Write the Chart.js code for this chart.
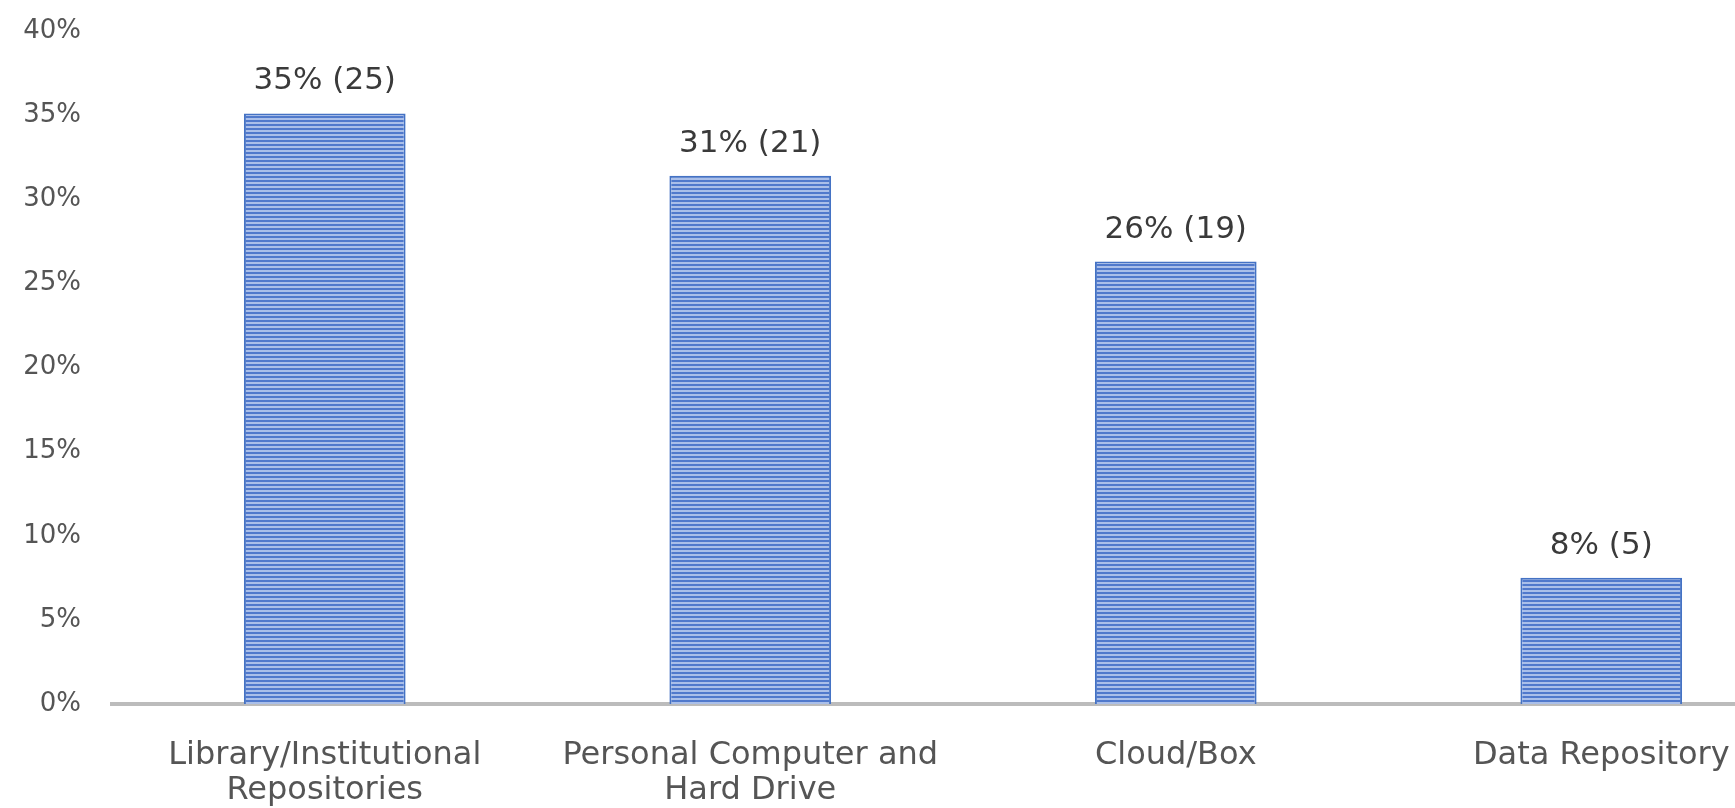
<!DOCTYPE html>
<html>
<head>
<meta charset="utf-8">
<script src="https://cdn.jsdelivr.net/npm/chart.js@4.4.1/dist/chart.umd.min.js"></script>
<style>
  html, body { margin: 0; padding: 0; background: #ffffff; overflow: hidden; }
  #wrap { width: 1814px; height: 808px; }
</style>
</head>
<body>
<div id="wrap"><canvas id="c" width="1814" height="808"></canvas></div>
<script>
const categories = [
  ['Library/Institutional', 'Repositories'],
  ['Personal Computer and', 'Hard Drive'],
  'Cloud/Box',
  'Data Repository'
];
const shareValues = [35.1, 31.4, 26.3, 7.5];
const percentLabels = [35, 31, 26, 8];
const countLabels = [25, 21, 19, 5];
const yTickMax = 40;
const yTickStep = 5;

// horizontal stripe pattern
function makeStripes() {
  const p = document.createElement('canvas');
  p.width = 4; p.height = 4;
  const g = p.getContext('2d');
  g.fillStyle = '#aabfe9';
  g.fillRect(0, 0, 4, 4);
  g.fillStyle = '#5079cc';
  g.fillRect(0, 0, 4, 2);
  return g.createPattern(p, 'repeat');
}
const ctx = document.getElementById('c').getContext('2d');
const stripes = makeStripes();

const dataLabelPlugin = {
  id: 'dataLabels',
  afterDatasetsDraw(chart) {
    const meta = chart.getDatasetMeta(0);
    const c = chart.ctx;
    c.save();
    c.font = '31px "DejaVu Sans"';
    c.fillStyle = '#3a3a3a';
    c.textAlign = 'center';
    c.textBaseline = 'alphabetic';
    meta.data.forEach((bar, i) => {
      c.fillText(percentLabels[i] + '% (' + countLabels[i] + ')', bar.x, bar.y - 24);
    });
    c.restore();
  }
};

new Chart(ctx, {
  type: 'bar',
  data: {
    labels: categories,
    datasets: [{
      data: shareValues,
      backgroundColor: stripes,
      borderColor: '#4472C4',
      borderWidth: { left: 2, right: 2, top: 2, bottom: 0 },
      borderSkipped: false,
      barPercentage: 0.38,
      categoryPercentage: 1.0
    }]
  },
  options: {
    responsive: false,
    devicePixelRatio: 1,
    animation: false,
    layout: { padding: { top: 31, right: 0, bottom: 0, left: 0 } },
    plugins: {
      legend: { display: false },
      tooltip: { enabled: false }
    },
    scales: {
      x: {
        grid: { display: false, drawTicks: false },
        border: { display: true, color: '#bcbcbc', width: 4 },
        ticks: {
          color: '#555555',
          font: { family: '"DejaVu Sans"', size: 32, lineHeight: 1.1 },
          padding: 34,
          maxRotation: 0,
          autoSkip: false
        },
        afterFit(s) { s.height = 104; s.paddingLeft = 0; s.paddingRight = 0; }
      },
      y: {
        min: 0,
        max: yTickMax,
        grid: { display: false, drawTicks: false },
        border: { display: false },
        ticks: {
          stepSize: yTickStep,
          color: '#555555',
          font: { family: '"DejaVu Sans"', size: 26 },
          padding: 31,
          callback: (v) => v + '%'
        },
        afterFit(s) { s.width = 112; s.paddingTop = 0; s.paddingBottom = 0; }
      }
    }
  },
  plugins: [dataLabelPlugin]
});
</script>
</body>
</html>
